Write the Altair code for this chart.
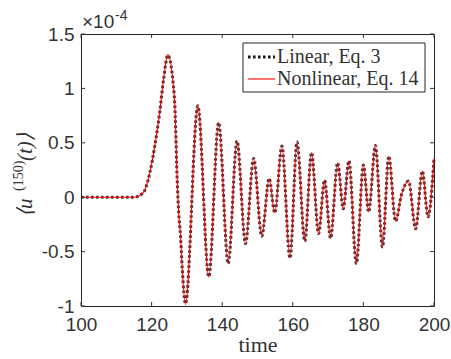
import altair as alt
import pandas as pd

# Sampled response <u^(150)(t)> (units of 1e-4) at the turning points of the signal
time = [100, 115, 117.6, 119.5, 120.9, 122.3, 123.4, 124.6, 126.1, 126.7, 127.1,
        127.6, 128.2, 128.7, 129.6, 133.1, 136.2, 139.0, 141.7, 144.2, 146.6,
        148.9, 151.2, 153.3, 154.9, 156.9, 159.2, 161.2, 163.4, 165.3, 167.3,
        169.0, 170.7, 172.7, 174.3, 175.9, 178.0, 180.0, 181.5, 183.4, 185.4,
        187.2, 189.1, 190.8, 192.8, 194.8, 196.7, 198.3, 200]
u_linear = [0, 0, 0.04, 0.225, 0.47, 0.78, 1.086, 1.305, 1.05, 0.75, 0.3,
            -0.1, -0.36, -0.667, -0.98, 0.84, -0.73, 0.685, -0.61, 0.516, -0.427,
            0.356, -0.36, 0.172, -0.144, 0.47, -0.56, 0.507, -0.405, 0.41, -0.335,
            0.157, -0.378, 0.316, -0.107, 0.335, -0.61, 0.295, -0.135, 0.476, -0.457,
            0.378, -0.22, 0.025, 0.148, -0.29, 0.24, -0.18, 0.353]
# The nonlinear solution coincides with the linear one at this scale
u_nonlinear = [0, 0, 0.04, 0.225, 0.47, 0.78, 1.086, 1.31, 1.05, 0.75, 0.3,
               -0.1, -0.36, -0.667, -0.985, 0.845, -0.735, 0.69, -0.61, 0.52, -0.43,
               0.356, -0.36, 0.172, -0.144, 0.47, -0.56, 0.507, -0.405, 0.41, -0.335,
               0.157, -0.378, 0.316, -0.107, 0.335, -0.615, 0.295, -0.135, 0.476, -0.46,
               0.378, -0.22, 0.025, 0.148, -0.29, 0.24, -0.18, 0.353]

series_names = ["Linear, Eq. 3", "Nonlinear, Eq. 14"]
x_ticks = [100, 120, 140, 160, 180, 200]
y_ticks = [-1, -0.5, 0, 0.5, 1, 1.5]
exponent_label = "×10"
exponent_power = "-4"
# y-axis label <u^(150)(t)> split into base, superscript and tail
ylabel_parts = ["⟨u", "(150)", "(t)⟩"]

df = pd.concat([
    pd.DataFrame({"time": time, "u": u_linear, "series": series_names[0]}),
    pd.DataFrame({"time": time, "u": u_nonlinear, "series": series_names[1]}),
])
xt = pd.DataFrame({"t": x_ticks})
yt = pd.DataFrame({"v": y_ticks})

INK = "#333333"
SANS = "Liberation Sans"
SERIF = "Liberation Serif"
W, H = 353, 272

xscale = alt.Scale(domain=[100, 200], nice=False, zero=False)
yscale = alt.Scale(domain=[-1, 1.5], nice=False, zero=False)

x_axis = alt.Axis(values=x_ticks, grid=False, ticks=False, domain=False,
                  labelFlush=False, labelOverlap=False,
                  labelFont=SANS, labelFontSize=19, labelColor=INK, labelPadding=9,
                  title="time", titleFont=SERIF, titleFontSize=22,
                  titleFontWeight="normal", titleColor=INK, titlePadding=0)
y_axis = alt.Axis(values=y_ticks, grid=False, ticks=False, domain=False,
                  labelFlush=False, labelOverlap=False,
                  labelFont=SANS, labelFontSize=19, labelColor=INK, labelPadding=7,
                  labelExpr="'' + datum.value", title=None)

base = alt.Chart(df)
linear = base.transform_filter(alt.datum.series == series_names[0]).mark_line(
    color="#262626", strokeWidth=3, strokeDash=[2.6, 2.4], interpolate="monotone",
    opacity=0.9
).encode(x=alt.X("time:Q", scale=xscale, axis=x_axis),
         y=alt.Y("u:Q", scale=yscale, axis=y_axis))
nonlinear = base.transform_filter(alt.datum.series == series_names[1]).mark_line(
    color="#ff0000", strokeWidth=1.1, interpolate="monotone"
).encode(x=alt.X("time:Q", scale=xscale), y=alt.Y("u:Q", scale=yscale))

# Inward ticks on all four sides of the box
tick_style = dict(color=INK, strokeWidth=1)
xb = alt.Chart(xt).mark_rule(**tick_style).encode(
    x=alt.X("t:Q", scale=xscale), y=alt.value(H), y2=alt.value(H - 4))
xtop = alt.Chart(xt).mark_rule(**tick_style).encode(
    x=alt.X("t:Q", scale=xscale), y=alt.value(0), y2=alt.value(4))
yl = alt.Chart(yt).mark_rule(**tick_style).encode(
    y=alt.Y("v:Q", scale=yscale), x=alt.value(0), x2=alt.value(4))
yr = alt.Chart(yt).mark_rule(**tick_style).encode(
    y=alt.Y("v:Q", scale=yscale), x=alt.value(W), x2=alt.value(W - 4))

one = pd.DataFrame({"k": [0]})

# Exponent annotation above the y axis
exp_base = alt.Chart(one).mark_text(
    font=SANS, fontSize=19, color=INK, align="left", baseline="alphabetic"
).encode(x=alt.value(1), y=alt.value(-6), text=alt.value(exponent_label))
exp_pow = alt.Chart(one).mark_text(
    font=SANS, fontSize=14, color=INK, align="left", baseline="alphabetic"
).encode(x=alt.value(34), y=alt.value(-14), text=alt.value(exponent_power))

# Rotated y-axis label built from three pieces
def ylabel_piece(txt, y, x, size, style):
    return alt.Chart(one).mark_text(
        font=SERIF, fontSize=size, color=INK, align="left", baseline="middle",
        angle=270, fontStyle=style
    ).encode(x=alt.value(x), y=alt.value(y), text=alt.value(txt))

yl1 = ylabel_piece(ylabel_parts[0], 183, -55, 21, "italic")
yl2 = ylabel_piece(ylabel_parts[1], 157, -62, 14, "normal")
yl3 = ylabel_piece(ylabel_parts[2], 127, -55, 21, "italic")

# Legend box
leg_box = alt.Chart(one).mark_rect(fill="white", stroke="#262626", strokeWidth=1).encode(
    x=alt.value(162), x2=alt.value(344), y=alt.value(9), y2=alt.value(58))
leg_lin = alt.Chart(one).mark_rule(color="#1a1a1a", strokeWidth=3, strokeDash=[2.6, 2.4]).encode(
    x=alt.value(167), x2=alt.value(194), y=alt.value(23))
leg_nl = alt.Chart(one).mark_rule(color="#ff0000", strokeWidth=1.1).encode(
    x=alt.value(167), x2=alt.value(194), y=alt.value(45))
leg_t1 = alt.Chart(one).mark_text(font=SERIF, fontSize=20, color=INK, align="left",
                                  baseline="middle").encode(
    x=alt.value(196), y=alt.value(23), text=alt.value(series_names[0]))
leg_t2 = alt.Chart(one).mark_text(font=SERIF, fontSize=20, color=INK, align="left",
                                  baseline="middle").encode(
    x=alt.value(196), y=alt.value(45), text=alt.value(series_names[1]))

chart = alt.layer(
    linear, nonlinear, xb, xtop, yl, yr, exp_base, exp_pow, yl1, yl2, yl3,
    leg_box, leg_lin, leg_nl, leg_t1, leg_t2
).properties(
    width=W, height=H,
    autosize=alt.AutoSizeParams(type="none"),
    padding={"left": 81, "top": 34, "right": 17, "bottom": 53},
    background="white",
).configure_view(stroke="#262626", strokeWidth=1)

chart.save("out.html", embed_options={"renderer": "svg", "actions": False})
